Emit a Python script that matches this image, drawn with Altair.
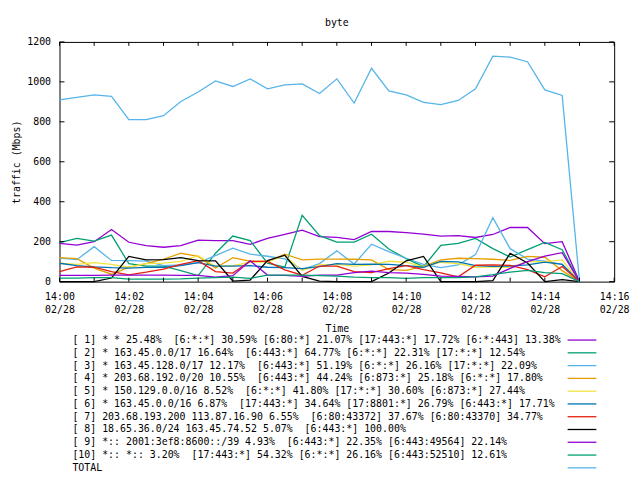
import altair as alt
import pandas as pd

# x positions: samples every 30 s from 14:00:00 to 14:15:00 (UTC, 02/28)
times = ["2024-02-28T14:%02d:%02dZ" % (i // 2, (i % 2) * 30) for i in range(31)]

s1 = [192, 183, 200, 261, 197, 180, 172, 180, 208, 205, 205, 187, 216, 236, 258, 225,
      221, 210, 251, 251, 245, 238, 228, 230, 221, 236, 271, 271, 190, 200, 0]
s2 = [195, 216, 203, 233, 90, 78, 78, 55, 30, 142, 228, 205, 92, 72, 332, 230,
      198, 198, 237, 163, 115, 75, 181, 192, 216, 165, 123, 160, 196, 160, 0]
s3 = [118, 110, 175, 106, 105, 103, 80, 84, 95, 130, 167, 138, 127, 114, 60, 90,
      154, 88, 187, 150, 117, 86, 70, 84, 135, 320, 165, 113, 103, 87, 0]
s4 = [120, 115, 68, 37, 72, 90, 112, 142, 126, 68, 120, 102, 101, 137, 109, 113,
      113, 112, 109, 60, 56, 76, 109, 117, 115, 112, 106, 126, 122, 55, 0]
s5 = [92, 86, 95, 86, 72, 90, 93, 101, 130, 76, 80, 97, 98, 131, 55, 84,
      86, 78, 84, 102, 97, 74, 97, 90, 72, 74, 72, 100, 100, 109, 0]
s6 = [92, 80, 74, 70, 68, 71, 71, 80, 95, 78, 78, 80, 72, 70, 65, 75,
      90, 86, 88, 86, 80, 72, 101, 99, 80, 76, 78, 84, 98, 86, 0]
s7 = [50, 74, 72, 50, 34, 47, 63, 86, 105, 50, 43, 102, 101, 59, 32, 78,
      78, 50, 45, 65, 80, 60, 44, 24, 82, 84, 81, 60, 24, 76, 0]
s8 = [0, 0, 0, 18, 126, 109, 110, 120, 105, 104, 3, 8, 105, 132, 26, 3,
      0, 0, 0, 43, 104, 126, 0, 0, 0, 5, 142, 93, 0, 10, 0]
s9 = [31, 31, 31, 33, 33, 33, 33, 31, 31, 22, 30, 104, 33, 31, 26, 33,
      32, 45, 52, 45, 42, 36, 28, 26, 24, 28, 66, 100, 128, 145, 0]
s10 = [18, 18, 20, 20, 12, 12, 13, 14, 17, 20, 22, 16, 33, 33, 33, 30,
       27, 22, 20, 20, 16, 20, 20, 20, 24, 35, 48, 56, 45, 40, 0]
total = [910, 922, 935, 927, 811, 811, 831, 902, 949, 1005, 977, 1015, 965, 985, 990, 942,
         1015, 894, 1068, 955, 935, 897, 886, 907, 965, 1129, 1124, 1101, 960, 932, 0]

labels = [
    "[ 1] * * 25.48%\u00a0 [6:*:*] 30.59% [6:80:*] 21.07% [17:443:*] 17.72% [6:*:443] 13.38%",
    "[ 2] * 163.45.0.0/17 16.64%\u00a0 [6:443:*] 64.77% [6:*:*] 22.31% [17:*:*] 12.54%",
    "[ 3] * 163.45.128.0/17 12.17%\u00a0 [6:443:*] 51.19% [6:*:*] 26.16% [17:*:*] 22.09%",
    "[ 4] * 203.68.192.0/20 10.55%\u00a0 [6:443:*] 44.24% [6:873:*] 25.18% [6:*:*] 17.80%",
    "[ 5] * 150.129.0.0/16 8.52%\u00a0 [6:*:*] 41.80% [17:*:*] 30.60% [6:873:*] 27.44%",
    "[ 6] * 163.45.0.0/16 6.87%\u00a0 [17:443:*] 34.64% [17:8801:*] 26.79% [6:443:*] 17.71%",
    "[ 7] 203.68.193.200 113.87.16.90 6.55%\u00a0 [6:80:43372] 37.67% [6:80:43370] 34.77%",
    "[ 8] 18.65.36.0/24 163.45.74.52 5.07%\u00a0 [6:443:*] 100.00%",
    "[ 9] *:: 2001:3ef8:8600::/39 4.93%\u00a0 [6:443:*] 22.35% [6:443:49564] 22.14%",
    "[10] *:: *:: 3.20%\u00a0 [17:443:*] 54.32% [6:*:*] 26.16% [6:443:52510] 12.61%",
    "TOTAL",
]
colors = ["#9400d3", "#009e73", "#56b4e9", "#e69f00", "#f0e442", "#0072b2",
          "#e51e10", "#000000", "#9400d3", "#009e73", "#56b4e9"]
series = [s1, s2, s3, s4, s5, s6, s7, s8, s9, s10, total]

x_tick_times = ["2024-02-28T14:%02d:00Z" % m for m in range(17)]
y_tick_values = [0, 200, 400, 600, 800, 1000, 1200]

rows = []
for lab, vals in zip(labels, series):
    for t, v in zip(times, vals):
        rows.append({"t": t, "s": lab, "v": v})
df = pd.DataFrame(rows)
xt = pd.DataFrame({"t": x_tick_times})
yt = pd.DataFrame({"v": y_tick_values})
leg = pd.DataFrame({"s": labels})

FONT = "DejaVu Sans Mono"


def dt(m):
    return alt.DateTime(year=2024, month=2, date=28, hours=14, minutes=m, utc=True)


x_scale = alt.Scale(type="utc", domain=[dt(0), dt(16)])
y_scale = alt.Scale(domain=[0, 1200], nice=False)
color_scale = alt.Scale(domain=labels, range=colors)

x_axis = alt.Axis(
    values=[dt(m) for m in range(0, 17, 2)],
    labelExpr="[utcFormat(datum.value, '%H:%M'), utcFormat(datum.value, '%m/%d')]",
    labelLineHeight=13, labelBaseline="top", labelPadding=10, labelFlush=False,
    labelOverlap=False, title="Time", titleX=280, titleY=47,
    titleAlign="center", titleBaseline="middle",
)
y_axis = alt.Axis(
    values=y_tick_values, format="d", labelPadding=9, title="traffic (Mbps)",
    titleX=-43, titleY=121, titleAngle=270, titleAlign="center", titleBaseline="middle",
)
x_enc = alt.X("t:T", scale=x_scale, axis=x_axis)
y_enc = alt.Y("v:Q", scale=y_scale, axis=y_axis)

lines = alt.Chart(df).mark_line(strokeWidth=1.3).encode(
    x=x_enc,
    y=y_enc,
    color=alt.Color("s:N", sort=labels, scale=color_scale, legend=None),
)

tick_top = alt.Chart(xt).mark_rule(color="black", strokeWidth=1).encode(
    x=x_enc, y=alt.value(0), y2=alt.value(4))
tick_bottom = alt.Chart(xt).mark_rule(color="black", strokeWidth=1).encode(
    x=x_enc, y=alt.value(242), y2=alt.value(238))
tick_left = alt.Chart(yt).mark_rule(color="black", strokeWidth=1).encode(
    y=y_enc, x=alt.value(0), x2=alt.value(5))
tick_right = alt.Chart(yt).mark_rule(color="black", strokeWidth=1).encode(
    y=y_enc, x=alt.value(560), x2=alt.value(555))

plot = alt.layer(lines, tick_top, tick_bottom, tick_left, tick_right)

# key below the plot: one row per series, rows placed by an ordinal scale
leg_y = alt.Y("s:N", sort=labels, axis=None,
              scale=alt.Scale(type="point", domain=labels, range=[301, 430], padding=0))
key_text = alt.Chart(leg).mark_text(
    align="left", baseline="middle", font=FONT, fontSize=10, color="black"
).encode(y=leg_y, x=alt.value(13), text="s:N")
key_line = alt.Chart(leg).mark_rule(strokeWidth=1.3).encode(
    y=leg_y, x=alt.value(513), x2=alt.value(542),
    color=alt.Color("s:N", sort=labels, scale=color_scale, legend=None),
)
key = alt.layer(key_text, key_line)

chart = alt.layer(plot, key).resolve_scale(y="independent").properties(
    width=560, height=242,
    title=alt.TitleParams("byte", font=FONT, fontSize=10, fontWeight="normal",
                          color="black", anchor="middle", frame="group",
                          baseline="alphabetic", offset=16, dy=15),
    autosize=alt.AutoSizeParams(type="none"),
    padding={"left": 52, "top": 32, "right": 18, "bottom": 194},
).configure(
    font=FONT, background="white",
).configure_view(
    stroke="black", strokeWidth=1,
).configure_axis(
    labelFont=FONT, labelFontSize=10, labelColor="black",
    titleFont=FONT, titleFontSize=10, titleFontWeight="normal", titleColor="black",
    grid=False, ticks=False, tickSize=0, domain=False,
)

chart.save("out.html", embed_options={"renderer": "svg", "actions": False})
